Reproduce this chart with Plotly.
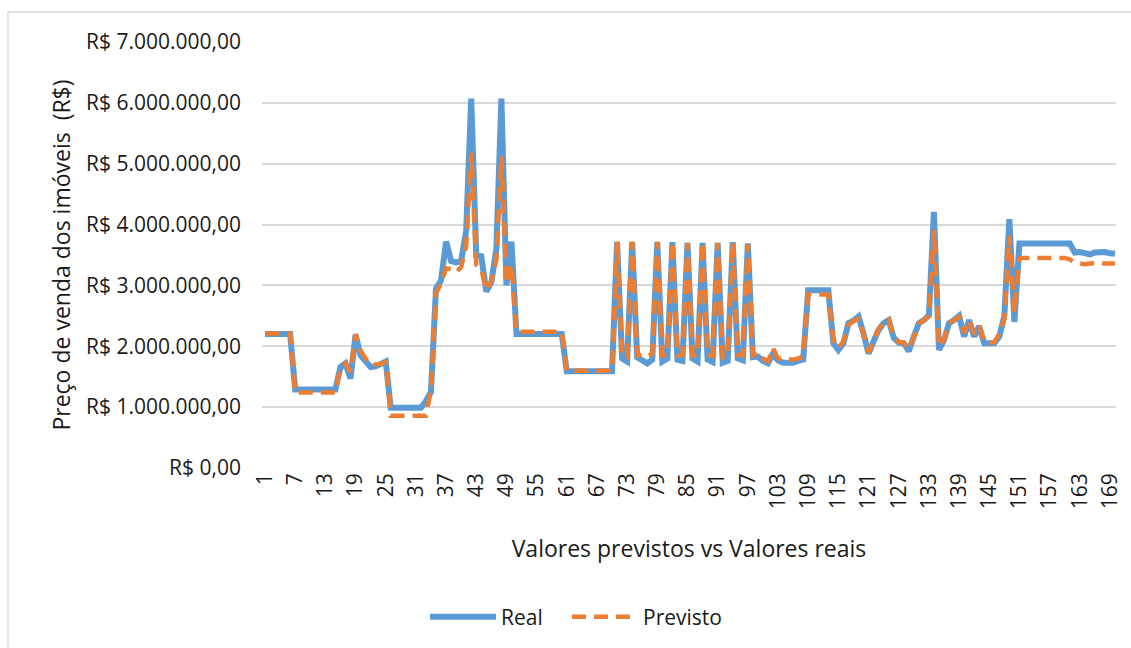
import plotly.graph_objects as go

# ---------------- data (values in millions of R$) ----------------
indices = list(range(1, 171))

real = [
    2.2, 2.2, 2.2, 2.2, 2.2, 2.2,
    1.29, 1.29, 1.29, 1.29, 1.29, 1.29, 1.29, 1.29, 1.29,
    1.66, 1.72, 1.47, 2.19, 1.85, 1.74, 1.66, 1.67, 1.70, 1.75,
    0.99, 0.99, 0.99, 0.99, 0.99, 0.99, 0.99,
    1.10, 1.25, 2.95, 3.08, 3.72, 3.40, 3.38, 3.40, 3.90, 6.07,
    3.50, 3.48, 2.90, 3.05, 3.60, 6.07, 3.00, 3.72,
    2.2, 2.2, 2.2, 2.2, 2.2, 2.2, 2.2, 2.2, 2.2, 2.2,
    1.59, 1.59, 1.59, 1.59, 1.59, 1.59, 1.59, 1.59, 1.59, 1.59,
    3.71, 1.80, 1.75, 3.71, 1.82, 1.78, 1.72, 1.78, 3.71, 1.75,
    1.80, 3.71, 1.78, 1.76, 3.70, 1.80, 1.75, 3.70, 1.78, 1.74,
    3.70, 1.73, 1.76, 3.71, 1.80, 1.77, 3.69, 1.82, 1.83, 1.76,
    1.72, 1.88, 1.77, 1.73, 1.73, 1.73, 1.76, 1.78,
    2.92, 2.92, 2.92, 2.92, 2.92,
    2.05, 1.94, 2.05, 2.38, 2.42, 2.49, 2.21, 1.88, 2.08, 2.27,
    2.38, 2.43, 2.14, 2.06, 2.05, 1.92, 2.16, 2.38, 2.43, 2.51,
    4.21, 1.94, 2.10, 2.38, 2.43, 2.50, 2.16, 2.43, 2.16, 2.33,
    2.05, 2.05, 2.05, 2.16, 2.50, 4.09, 2.40,
    3.69, 3.69, 3.69, 3.69, 3.69, 3.69, 3.69, 3.69, 3.69, 3.69, 3.69,
    3.54, 3.55, 3.53, 3.51, 3.54, 3.55, 3.55, 3.53, 3.52,
]

previsto = [
    2.21, 2.21, 2.21, 2.21, 2.21, 2.21,
    1.24, 1.24, 1.24, 1.24, 1.24, 1.24, 1.24, 1.24, 1.24,
    1.66, 1.72, 1.58, 2.20, 1.93, 1.80, 1.71, 1.70, 1.71, 1.74,
    0.86, 0.86, 0.86, 0.86, 0.86, 0.86, 0.86, 0.86,
    1.28, 2.87, 3.03, 3.28, 3.27, 3.22, 3.30, 3.65, 5.18,
    3.34, 3.27, 2.92, 3.07, 3.42, 5.12, 3.03, 3.35,
    2.24, 2.24, 2.24, 2.24, 2.24, 2.24, 2.24, 2.24, 2.24, 2.24,
    1.60, 1.60, 1.60, 1.60, 1.60, 1.60, 1.60, 1.60, 1.60, 1.60,
    3.72, 1.85, 1.82, 3.72, 1.85, 1.86, 1.83, 1.88, 3.72, 1.85,
    1.86, 3.72, 1.85, 1.86, 3.70, 1.85, 1.85, 3.71, 1.86, 1.84,
    3.70, 1.82, 1.85, 3.71, 1.86, 1.85, 3.68, 1.85, 1.90, 1.80,
    1.75, 1.97, 1.80, 1.79, 1.79, 1.78, 1.80, 1.83,
    2.85, 2.85, 2.85, 2.85, 2.85,
    2.10, 1.97, 2.08, 2.35, 2.42, 2.45, 2.20, 1.90, 2.10, 2.28,
    2.40, 2.44, 2.15, 2.07, 2.06, 1.95, 2.15, 2.38, 2.43, 2.50,
    3.91, 2.00, 2.10, 2.38, 2.43, 2.48, 2.22, 2.43, 2.20, 2.33,
    2.08, 2.05, 2.07, 2.20, 2.45, 3.82, 2.55,
    3.45, 3.45, 3.45, 3.45, 3.45, 3.45, 3.45, 3.45, 3.45, 3.45,
    3.43, 3.38, 3.36, 3.35, 3.36, 3.37, 3.37, 3.36, 3.36, 3.36,
]

x_tick_vals = [1, 7, 13, 19, 25, 31, 37, 43, 49, 55, 61, 67, 73, 79, 85,
               91, 97, 103, 109, 115, 121, 127, 133, 139, 145, 151, 157, 163, 169]
x_tick_text = ["1", "7", "13", "19", "25", "31", "37", "43", "49", "55", "61", "67",
               "73", "79", "85", "91", "97", "103", "109", "115", "121", "127",
               "133", "139", "145", "151", "157", "163", "169"]

y_tick_vals = [0, 1, 2, 3, 4, 5, 6, 7]
y_tick_text = ["R$ 0,00", "R$ 1.000.000,00", "R$ 2.000.000,00", "R$ 3.000.000,00",
               "R$ 4.000.000,00", "R$ 5.000.000,00", "R$ 6.000.000,00",
               "R$ 7.000.000,00"]

series_names = ["Real", "Previsto"]

# ---------------- figure ----------------
W, H = 1131, 648
L, R, T, B = 262, 15, 42, 180
FONT = "Open Sans"
TXT = "#1a1a1a"
GRID = "#d9d9d9"

fig = go.Figure()
fig.add_trace(go.Scatter(
    x=indices, y=real, mode="lines", name=series_names[0],
    line=dict(color="#5B9BD5", width=6), legend="legend",
))
fig.add_trace(go.Scatter(
    x=indices, y=previsto, mode="lines", name=series_names[1],
    line=dict(color="#ED7D31", width=4.5, dash="14px,8px"), legend="legend2",
))

pw = W - L - R
ph = H - T - B
leg_common = dict(
    orientation="h", xanchor="left",
    y=(468 - 617) / ph, yanchor="middle",
    font=dict(family=FONT, size=21, color=TXT),
    itemwidth=66, tracegroupgap=0, bgcolor="rgba(0,0,0,0)",
)
fig.update_layout(
    width=W, height=H,
    margin=dict(l=L, r=R, t=T, b=B, autoexpand=False),
    paper_bgcolor="white", plot_bgcolor="white",
    font=dict(family=FONT, color=TXT, size=21),
    showlegend=True,
    legend=dict(x=(425 - L) / pw, **leg_common),
    legend2=dict(x=(567 - L) / pw, **leg_common),
    xaxis=dict(
        range=[0.404, 170.2], automargin=False,
        tickmode="array", tickvals=x_tick_vals, ticktext=x_tick_text,
        tickangle=-90, tickfont=dict(family=FONT, size=21, color=TXT),
        showgrid=False, zeroline=False,
        showline=False, ticks="",
        title=dict(text="Valores previstos vs Valores reais",
                   font=dict(family=FONT, size=23, color=TXT), standoff=32),
    ),
    yaxis=dict(
        range=[0, 7], automargin=False,
        tickmode="array", tickvals=y_tick_vals, ticktext=y_tick_text,
        tickfont=dict(family=FONT, size=21, color=TXT),
        showgrid=True, gridcolor=GRID, gridwidth=1.5,
        zeroline=False, showline=False, ticks="",
        ticklabelstandoff=20,
        title=dict(text="Preço de venda dos imóveis  (R$)",
                   font=dict(family=FONT, size=23, color=TXT), standoff=8),
    ),
    shapes=[
        dict(type="rect", xref="paper", yref="paper",
             x0=(8 - L) / pw, x1=1.2, y0=(468 - 12) / ph, y1=-0.6,
             line=dict(color=GRID, width=1.3), fillcolor="rgba(0,0,0,0)",
             layer="below"),
    ],
)

fig.write_html("out.html", config={"displayModeBar": False},
               post_script="document.body.style.margin='0px';")
